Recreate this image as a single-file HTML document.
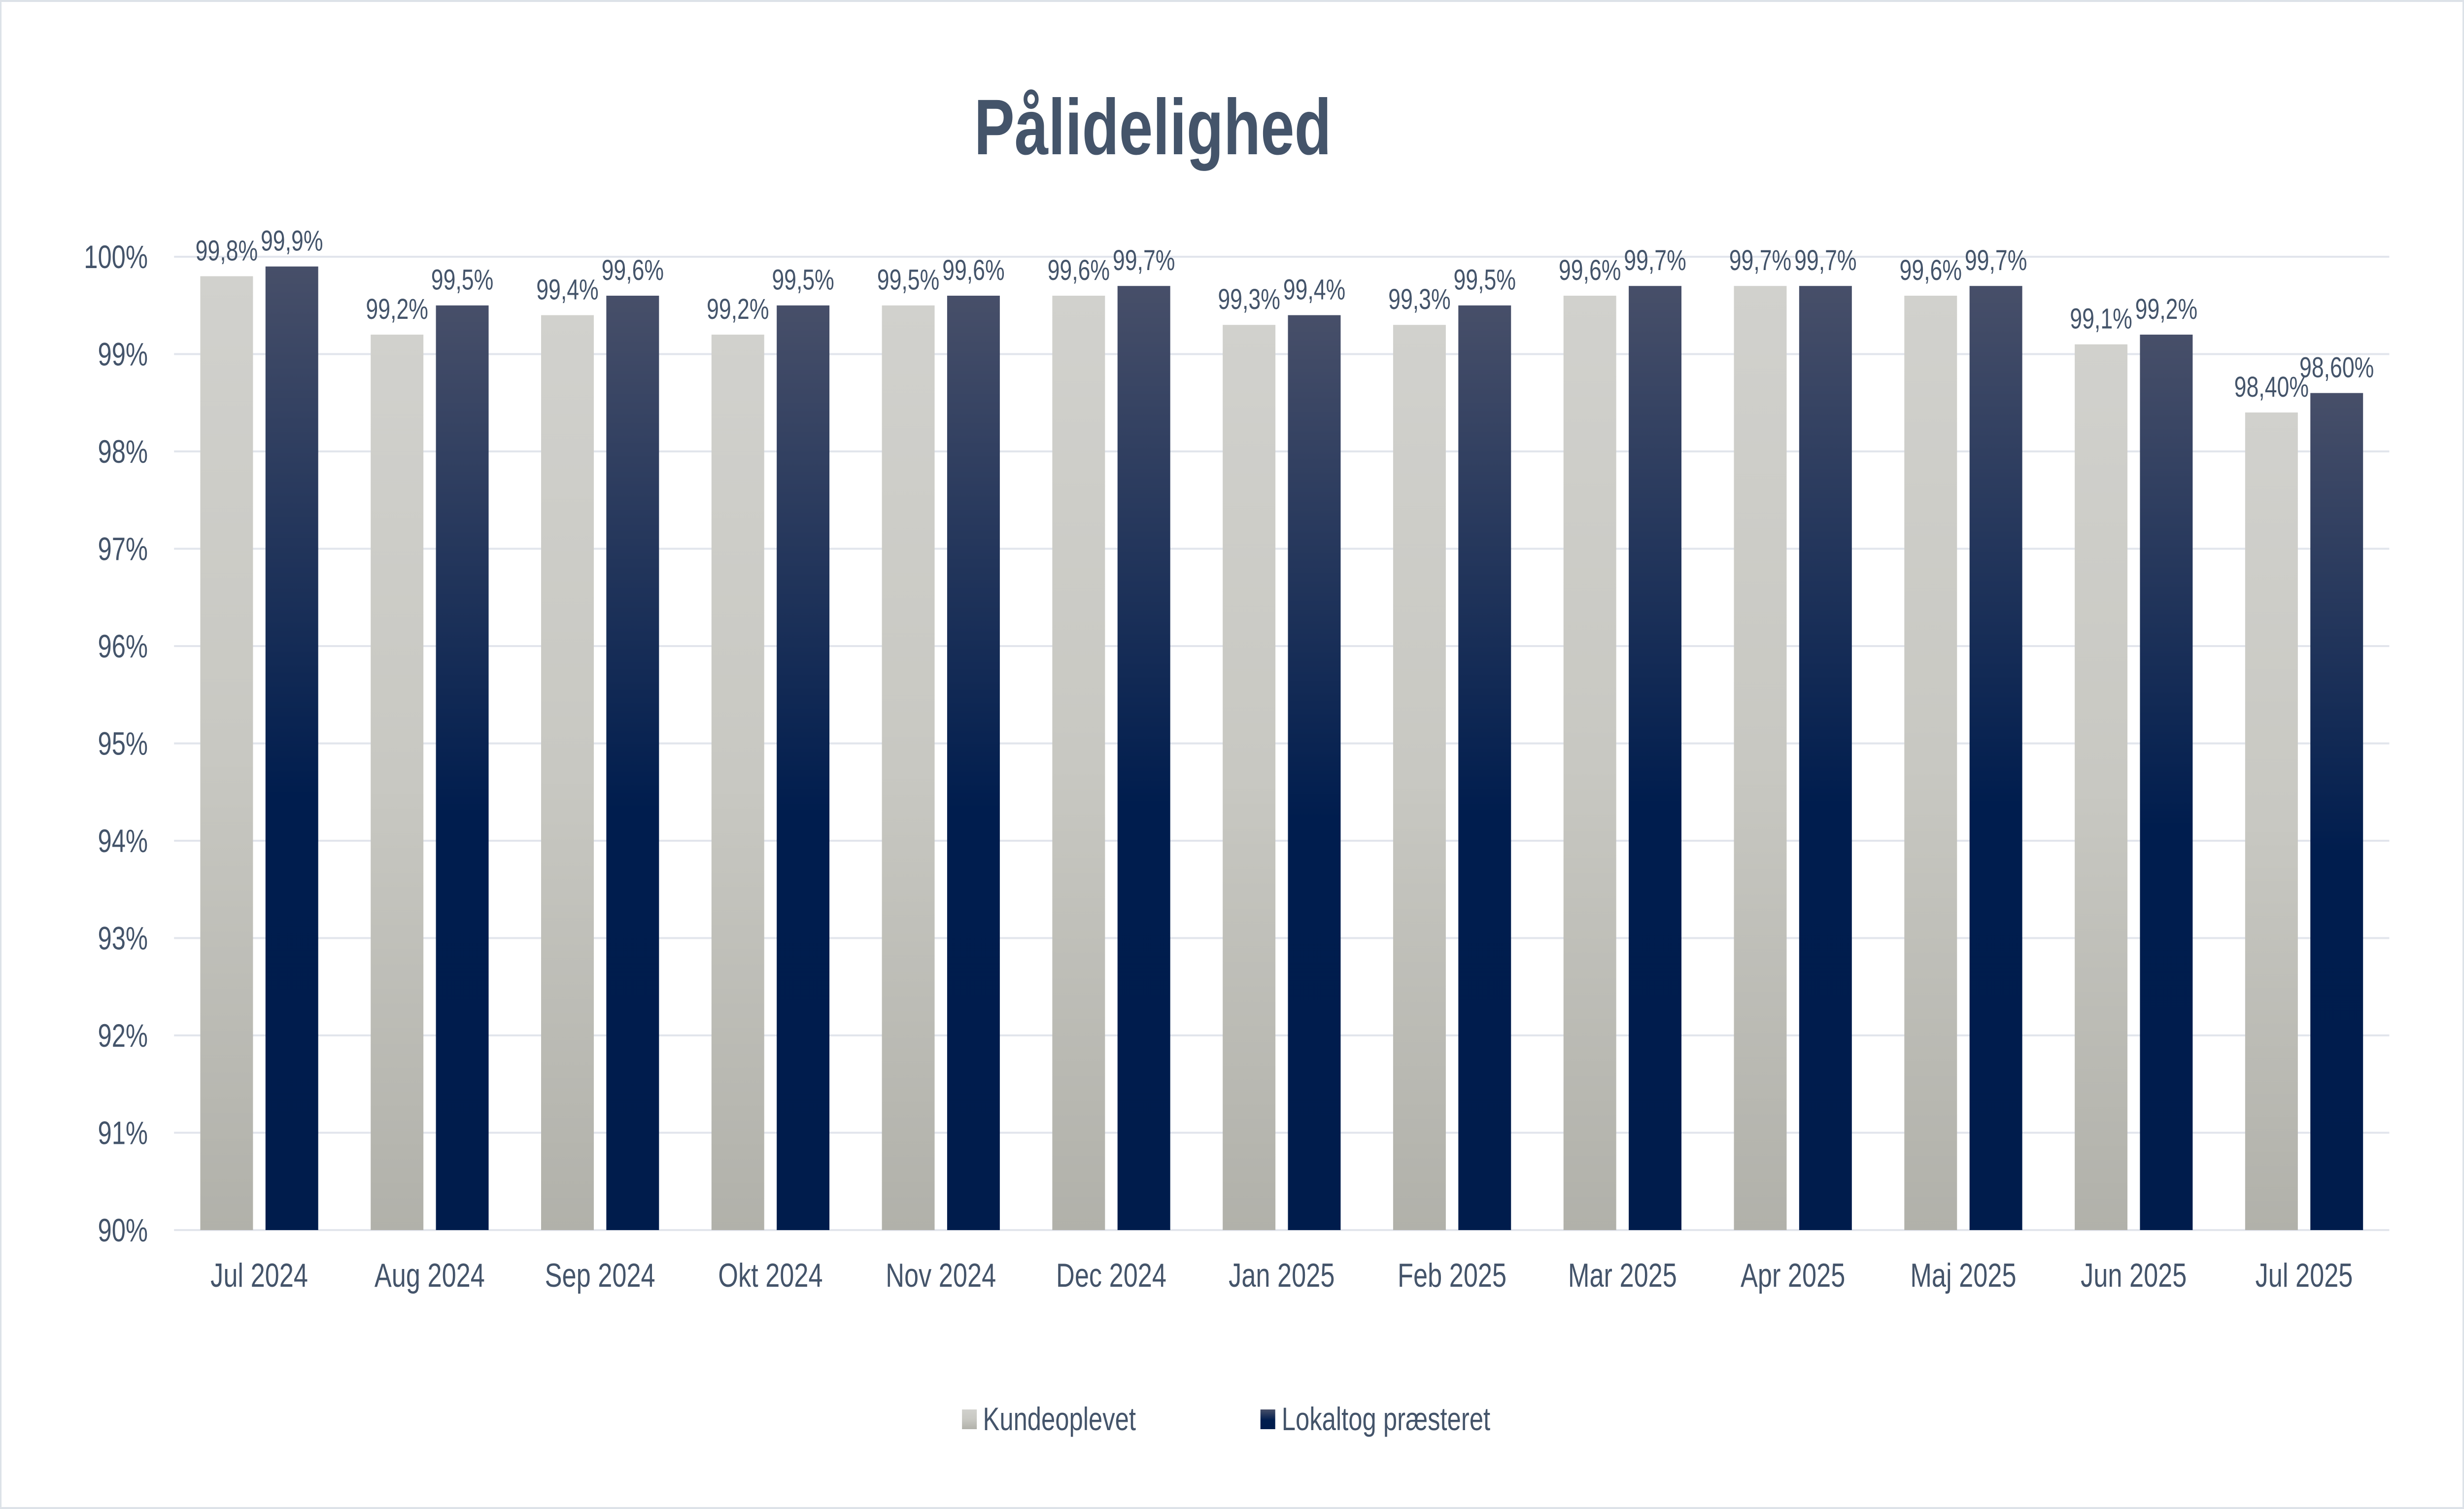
<!DOCTYPE html>
<html><head><meta charset="utf-8"><style>
html,body{margin:0;padding:0;background:#fff;width:100%;height:100%;overflow:hidden}
svg{display:block;width:100vw;height:100vh}
text{font-family:"Liberation Sans",sans-serif;fill:#44546a}
</style></head><body>
<svg id="chart" viewBox="0 0 6498 3062" preserveAspectRatio="none" xmlns="http://www.w3.org/2000/svg">
<defs>
<linearGradient id="gGrey" x1="0" y1="0" x2="0" y2="1"><stop offset="0" stop-color="#d1d1cd"/><stop offset="0.5" stop-color="#c8c8c2"/><stop offset="1" stop-color="#b1b1aa"/></linearGradient>
<linearGradient id="gNavy" x1="0" y1="0" x2="0" y2="1"><stop offset="0" stop-color="#474f69"/><stop offset="0.55" stop-color="#001d4e"/><stop offset="1" stop-color="#001c4c"/></linearGradient>
</defs>
<rect x="2" y="2" width="6494" height="3058" fill="#fff" stroke="#dde2e8" stroke-width="4"/>
<text x="3040" y="313" font-size="160" font-weight="bold" text-anchor="middle">Pålidelighed</text>
<g id="grid"></g><g id="bars"></g><g id="labels"></g>
<g>
<rect x="2537" y="2860" width="39" height="40" fill="url(#gGrey)"/>
<text x="2592" y="2902" font-size="66">Kundeoplevet</text>
<rect x="3324" y="2860" width="39" height="40" fill="url(#gNavy)"/>
<text x="3380" y="2902" font-size="66">Lokaltog præsteret</text>
</g>
</svg>
<script>
const categories=["Jul 2024","Aug 2024","Sep 2024","Okt 2024","Nov 2024","Dec 2024","Jan 2025","Feb 2025","Mar 2025","Apr 2025","Maj 2025","Jun 2025","Jul 2025"];
const kundeValues=[99.8,99.2,99.4,99.2,99.5,99.6,99.3,99.3,99.6,99.7,99.6,99.1,98.4];
const lokalValues=[99.9,99.5,99.6,99.5,99.6,99.7,99.4,99.5,99.7,99.7,99.7,99.2,98.6];
const kundeLabels=["99,8%","99,2%","99,4%","99,2%","99,5%","99,6%","99,3%","99,3%","99,6%","99,7%","99,6%","99,1%","98,40%"];
const lokalLabels=["99,9%","99,5%","99,6%","99,5%","99,6%","99,7%","99,4%","99,5%","99,7%","99,7%","99,7%","99,2%","98,60%"];
const yTicks=[90,91,92,93,94,95,96,97,98,99,100];
const yTickLabels=["90%","91%","92%","93%","94%","95%","96%","97%","98%","99%","100%"];

const NS="http://www.w3.org/2000/svg";
const X0=459,X1=6301,Y100=521,Y90=2496,yMin=90,yMax=100;
const y=v=>Y90-(v-yMin)/(yMax-yMin)*(Y90-Y100);
const band=(X1-X0)/categories.length;
const xc=i=>X0+band*(i+0.5);
const BW=139,GAP=33;
function mk(tag,attrs,parent){const e=document.createElementNS(NS,tag);for(const k in attrs)e.setAttribute(k,attrs[k]);parent.appendChild(e);return e;}
const grid=document.getElementById('grid'),bars=document.getElementById('bars'),labels=document.getElementById('labels');
yTicks.forEach((t,i)=>{
  const l=mk('line',{x1:X0,x2:X1,y1:y(t),y2:y(t),stroke:'#e2e5ec','stroke-width':4},grid);
  
  
  const tx=mk('text',{x:390,y:y(t)+23,'font-size':66,'text-anchor':'end'},grid);
  tx.textContent=yTickLabels[i];
  
  
});
categories.forEach((c,i)=>{
  const cx=xc(i);
  const gx=cx-GAP/2-BW, nx=cx+GAP/2;
  const b1=mk('rect',{x:gx,y:y(kundeValues[i]),width:BW,height:Y90-y(kundeValues[i]),fill:'url(#gGrey)'},bars);
  
  
  const b2=mk('rect',{x:nx,y:y(lokalValues[i]),width:BW,height:Y90-y(lokalValues[i]),fill:'url(#gNavy)'},bars);
  
  
  const l1=mk('text',{x:gx+BW/2,y:y(kundeValues[i])-32,'font-size':58,'text-anchor':'middle'},labels);
  l1.textContent=kundeLabels[i];
  
  
  const l2=mk('text',{x:nx+BW/2,y:y(lokalValues[i])-32,'font-size':58,'text-anchor':'middle'},labels);
  l2.textContent=lokalLabels[i];
  
  
  const xl=mk('text',{x:cx,y:2611,'font-size':68,'text-anchor':'middle'},labels);
  xl.textContent=c;
  
  
});
</script>
</body></html>
